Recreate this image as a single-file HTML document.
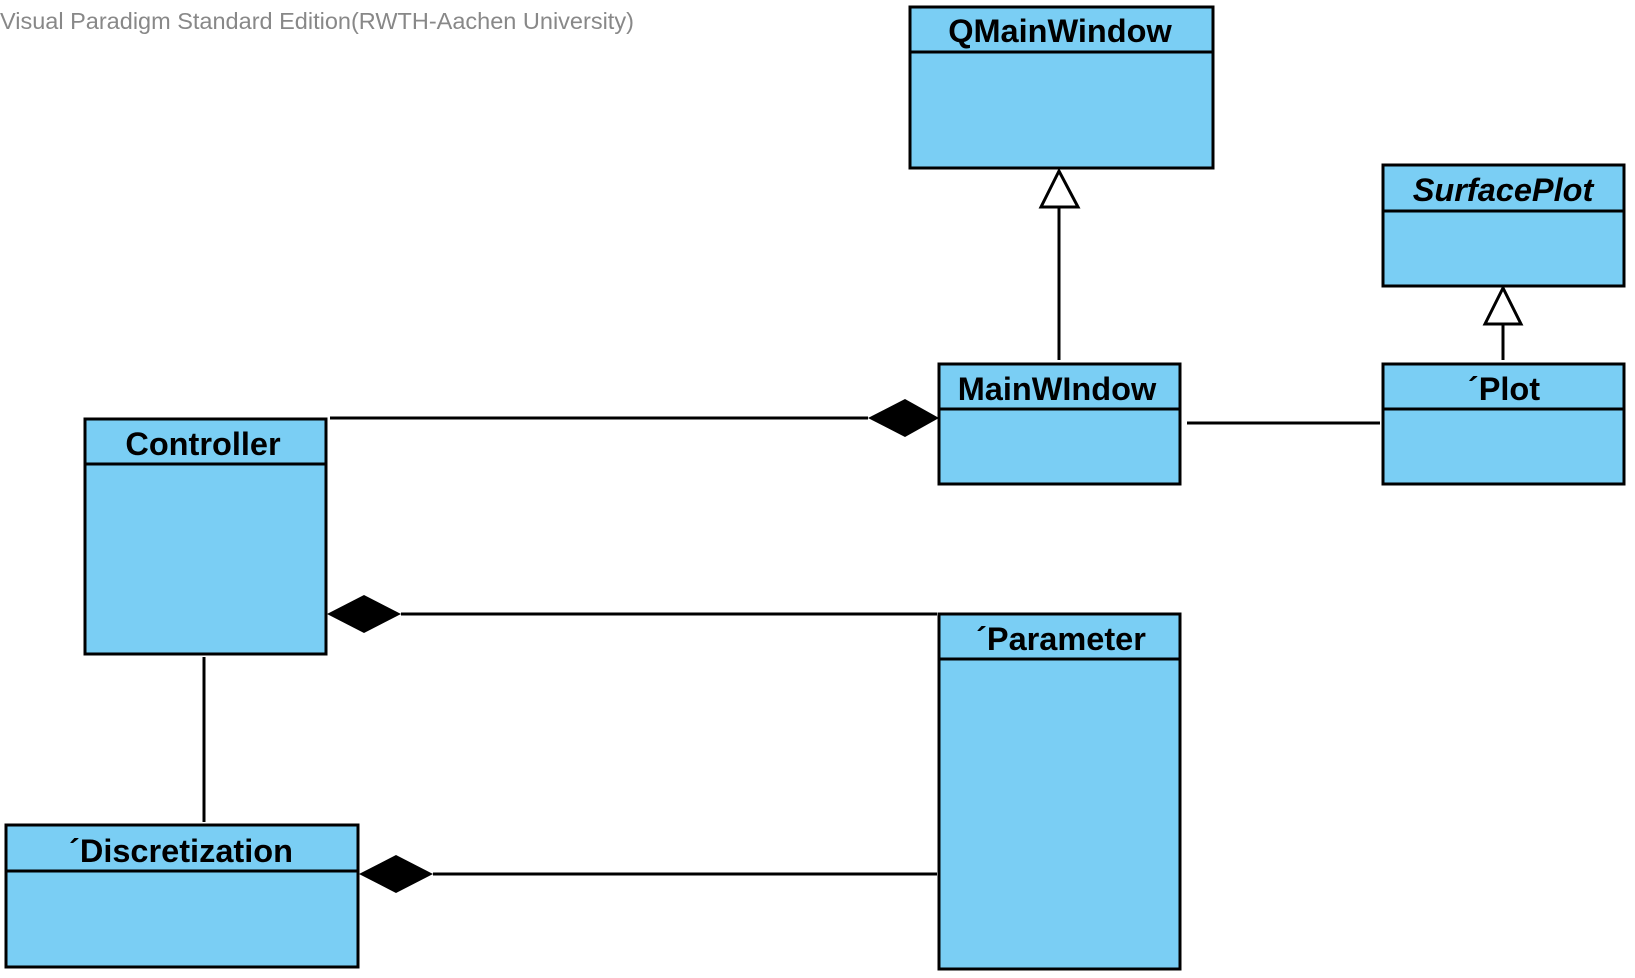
<!DOCTYPE html>
<html><head><meta charset="utf-8"><style>
html,body{margin:0;padding:0;background:#fff;}
svg{display:block;}
text{font-family:"Liberation Sans",Arial,sans-serif;}
</style></head><body>
<svg width="1635" height="978" viewBox="0 0 1635 978" xmlns="http://www.w3.org/2000/svg">
<text x="0" y="29" font-size="23.5" fill="#888">Visual Paradigm Standard Edition(RWTH-Aachen University)</text>
<g stroke="#000" stroke-width="3" fill="#7acef4">
<rect x="910" y="7" width="303" height="161"/><line x1="910" y1="52" x2="1213" y2="52"/>
<rect x="1383" y="165" width="241" height="121"/><line x1="1383" y1="211" x2="1624" y2="211"/>
<rect x="939" y="364" width="241" height="120"/><line x1="939" y1="409" x2="1180" y2="409"/>
<rect x="1383" y="364" width="241" height="120"/><line x1="1383" y1="409" x2="1624" y2="409"/>
<rect x="85" y="419" width="241" height="235"/><line x1="85" y1="464" x2="326" y2="464"/>
<rect x="939" y="614" width="241" height="355"/><line x1="939" y1="659" x2="1180" y2="659"/>
<rect x="6" y="825" width="352" height="142"/><line x1="6" y1="871" x2="358" y2="871"/>
</g>
<g stroke="#000" stroke-width="3" fill="none">
<line x1="1059" y1="207" x2="1059" y2="360"/>
<line x1="1503" y1="324" x2="1503" y2="360"/>
<line x1="1187" y1="423" x2="1380" y2="423"/>
<line x1="330" y1="418" x2="868" y2="418"/>
<line x1="401" y1="614" x2="937" y2="614"/>
<line x1="433" y1="874" x2="937" y2="874"/>
<line x1="204" y1="657" x2="204" y2="822"/>
</g>
<g stroke="#000" stroke-width="3" fill="#fff">
<polygon points="1059,171 1041,207 1078,207"/>
<polygon points="1503,288 1485,324 1521,324"/>
</g>
<g fill="#000">
<polygon points="939,418 905,399 868,418 905,437"/>
<polygon points="327,614 364,595 401,614 364,633"/>
<polygon points="359,874 396,855 433,874 396,893"/>
</g>
<g font-size="32.5" font-weight="bold" fill="#000" text-anchor="middle">
<text x="1060" y="42">QMainWindow</text>
<text x="1503" y="201" font-style="italic">SurfacePlot</text>
<text x="1057" y="400">MainWIndow</text>
<text x="1504" y="400">´Plot</text>
<text x="203" y="455">Controller</text>
<text x="1061" y="650">´Parameter</text>
<text x="181" y="862">´Discretization</text>
</g>
</svg>
</body></html>
